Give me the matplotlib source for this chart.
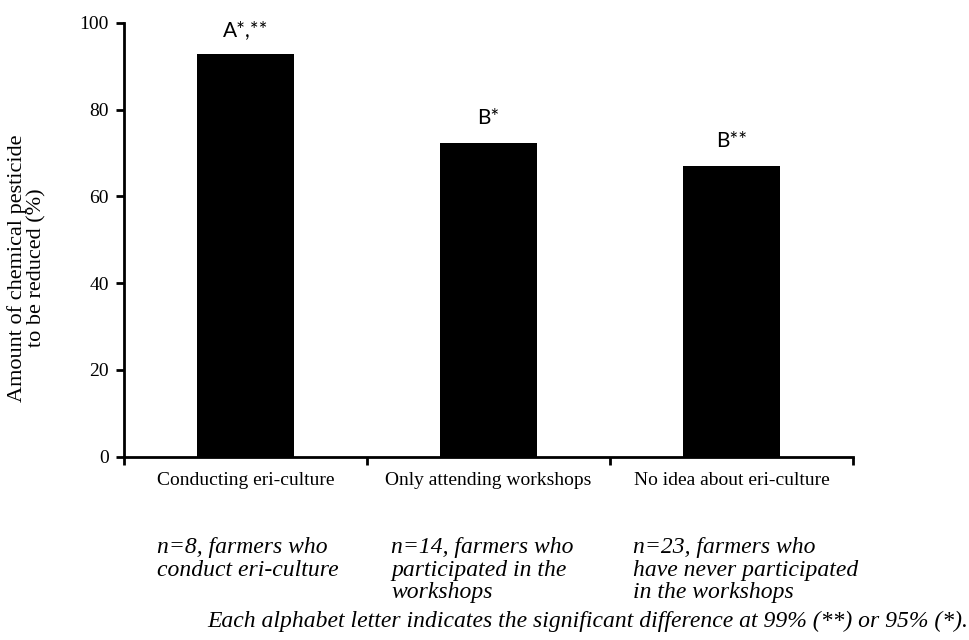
import matplotlib.pyplot as plt
import numpy as np

groups = ["Conducting eri-culture", "Only attending workshops", "No idea about eri-culture"]
reduction = [92.7, 72.3, 67.0]
letters = ["A*,**", "B*", "B**"]
notes = [
    "n=8, farmers who\nconduct eri-culture",
    "n=14, farmers who\nparticipated in the\nworkshops",
    "n=23, farmers who\nhave never participated\nin the workshops",
]
footnote = "Each alphabet letter indicates the significant difference at 99% (**) or 95% (*)."

plt.rcParams["font.family"] = "Liberation Serif"

fig = plt.figure(figsize=(9.7, 6.4), dpi=100)
ax = fig.add_axes([0.1278, 0.2864, 0.7516, 0.6781])

x = np.arange(len(groups))
ax.bar(x, reduction, width=0.4, color="black")

for xi, v, lab in zip(x, reduction, letters):
    ax.text(xi, v + 4.3, lab, ha="center", va="baseline", fontsize=15,
            family="Lato")

ax.set_xlim(-0.5, 2.5)
ax.set_ylim(0, 100)
ax.set_yticks(range(0, 101, 20))
ax.set_xticks(x)
ax.set_xticklabels(groups, fontsize=14)
ax.set_xticks(np.arange(-0.5, 3, 1), minor=True)
ax.tick_params(axis="x", which="major", length=0, pad=11)
ax.tick_params(axis="x", which="minor", length=6, width=2, direction="out")
ax.tick_params(axis="y", length=6, width=2, direction="out", labelsize=14, pad=5)

for side in ("top", "right"):
    ax.spines[side].set_visible(False)
for side in ("left", "bottom"):
    ax.spines[side].set_linewidth(2)

fig.text(27 / 970, 1 - 268 / 640, "Amount of chemical pesticide\nto be reduced (%)",
         rotation=90, ha="center", va="center", multialignment="center",
         fontsize=16, linespacing=1.0)

# sample size notes under each group
for xpos, txt in zip([157, 391, 633], notes):
    fig.text(xpos / 970, 1 - 537 / 640, txt, ha="left", va="top",
             style="italic", fontsize=17, linespacing=1.1)
fig.text(968 / 970, 1 - 627 / 640, footnote, ha="right", va="baseline",
         style="italic", fontsize=17)

fig.savefig("out.png", dpi=100)
